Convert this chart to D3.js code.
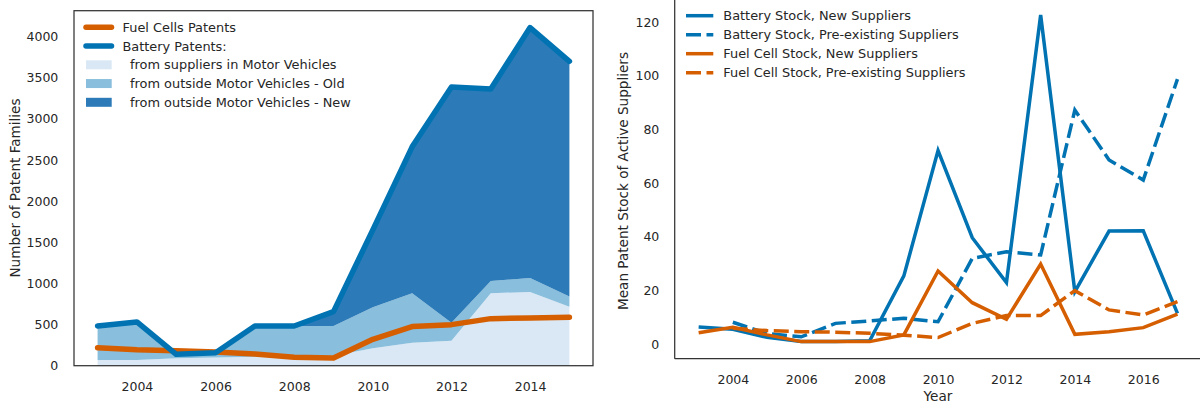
<!DOCTYPE html>
<html>
<head>
<meta charset="utf-8">
<script src="https://cdn.jsdelivr.net/npm/d3@7"></script>
<style>
  body { margin: 0; background: white; }
  svg text { font-family: "DejaVu Sans", sans-serif; fill: #262626; }
</style>
</head>
<body>
<div id="my_dataviz"></div>
<script>
// ---- data, left panel (patent families per year)
var leftYears = [2003, 2004, 2005, 2006, 2007, 2008, 2009, 2010, 2011, 2012, 2013, 2014, 2015]
var batSuppliersMV = [70, 70, 90, 100, 110, 110, 120, 212, 280, 304, 880, 897, 718]
var batOutsideOld = [413, 462, 49, 58, 373, 373, 363, 498, 600, 219, 150, 170, 122]
var batOutsideNew = [0, 0, 0, 0, 0, 0, 174, 941, 1780, 2864, 2333, 3043, 2860]
var fuelCellPatents = [219, 195, 183, 167, 142, 102, 94, 321, 475, 499, 572, 580, 589]
var leftXTicks = [2004, 2006, 2008, 2010, 2012, 2014]
var leftYTicks = [0, 500, 1000, 1500, 2000, 2500, 3000, 3500, 4000]

// ---- data, right panel (mean patent stock)
var rightYears = [2003, 2004, 2005, 2006, 2007, 2008, 2009, 2010, 2011, 2012, 2013, 2014, 2015, 2016, 2017]
var batStockNew = [6.4, 5.6, 2.6, 1.0, 1.0, 1.3, 25.5, 72.2, 39.7, 23.0, 122.7, 19.6, 42.2, 42.3, 11.5]
var batStockPre = [null, 8.2, 4.0, 2.8, 7.8, 8.7, 9.7, 8.4, 32.0, 34.5, 33.3, 87.3, 68.7, 61.2, 98.8]
var fcStockNew = [4.3, 6.3, 3.5, 1.0, 1.0, 1.0, 3.5, 27.3, 15.5, 9.3, 29.9, 3.7, 4.7, 6.2, 11.2]
var fcStockPre = [null, 6.0, 5.1, 4.7, 4.5, 4.1, 3.4, 2.5, 7.8, 10.7, 10.7, 20.0, 12.8, 10.9, 15.9]
var rightXTicks = [2004, 2006, 2008, 2010, 2012, 2014, 2016]
var rightYTicks = [0, 20, 40, 60, 80, 100, 120]

var blue = "#0173b2", orange = "#d55e00"
var areaColors = ["#dae8f5", "#89bedc", "#2c7bb8"]
var fontSize = 12.5      // ticks
var legendSize = 12.9    // legend entries
var labelSize = 13.6     // axis titles

var svg = d3.select("#my_dataviz")
  .append("svg")
  .attr("width", 1200)
  .attr("height", 405)

// ================= left panel =================
var xL = d3.scaleLinear().domain([2002.4, 2015.6]).range([74, 593])
var yL = d3.scaleLinear().domain([0, 4315]).range([365.7, 10.7])

var rows = leftYears.map(function(yr, i) {
  return { year: yr, mv: batSuppliersMV[i], old: batOutsideOld[i], nw: batOutsideNew[i], fc: fuelCellPatents[i] }
})
var stacked = d3.stack().keys(["mv", "old", "nw"])(rows)

var left = svg.append("g")

left.selectAll(".layer")
  .data(stacked)
  .enter()
  .append("path")
  .attr("fill", function(d, i) { return areaColors[i] })
  .attr("d", d3.area()
    .x(function(d) { return xL(d.data.year) })
    .y0(function(d) { return yL(d[0]) })
    .y1(function(d) { return yL(d[1]) }))

// fuel cells line
left.append("path")
  .datum(rows)
  .attr("fill", "none")
  .attr("stroke", orange)
  .attr("stroke-width", 5.5)
  .attr("stroke-linecap", "round")
  .attr("stroke-linejoin", "round")
  .attr("d", d3.line().x(function(d) { return xL(d.year) }).y(function(d) { return yL(d.fc) }))

// battery total = top of the stack
left.append("path")
  .datum(stacked[2])
  .attr("fill", "none")
  .attr("stroke", blue)
  .attr("stroke-width", 5.5)
  .attr("stroke-linecap", "round")
  .attr("stroke-linejoin", "round")
  .attr("d", d3.line().x(function(d) { return xL(d.data.year) }).y(function(d) { return yL(d[1]) }))

// frame
left.append("rect")
  .attr("x", 74).attr("y", 10.7)
  .attr("width", 593 - 74).attr("height", 365.7 - 10.7)
  .attr("fill", "none")
  .attr("stroke", "#333")
  .attr("stroke-width", 1.25)

left.append("g")
  .attr("transform", "translate(0,365.7)")
  .style("font-size", fontSize)
  .call(d3.axisBottom(xL).tickValues(leftXTicks).tickFormat(d3.format("d")).tickSize(0).tickPadding(16))
  .call(function(g) { g.select(".domain").remove() })

left.append("g")
  .attr("transform", "translate(74,0)")
  .style("font-size", fontSize)
  .call(d3.axisLeft(yL).tickValues(leftYTicks).tickFormat(d3.format("d")).tickSize(0).tickPadding(15.7))
  .call(function(g) { g.select(".domain").remove() })

left.append("text")
  .attr("transform", "translate(19.8,188) rotate(-90)")
  .attr("text-anchor", "middle")
  .style("font-size", labelSize)
  .text("Number of Patent Families")

// legend
var legL = [
  { label: "Fuel Cells Patents", type: "line", color: orange },
  { label: "Battery Patents:", type: "line", color: blue },
  { label: "from suppliers in Motor Vehicles", type: "patch", color: areaColors[0] },
  { label: "from outside Motor Vehicles - Old", type: "patch", color: areaColors[1] },
  { label: "from outside Motor Vehicles - New", type: "patch", color: areaColors[2] }
]
var legLeft = left.selectAll(".legL")
  .data(legL)
  .enter()
  .append("g")
  .attr("transform", function(d, i) { return "translate(0," + (27.3 + i * 18.75) + ")" })

legLeft.filter(function(d) { return d.type == "line" })
  .append("line")
  .attr("x1", 86).attr("x2", 111.5)
  .attr("stroke", function(d) { return d.color })
  .attr("stroke-width", 5.5)
  .attr("stroke-linecap", "round")

legLeft.filter(function(d) { return d.type == "patch" })
  .append("rect")
  .attr("x", 86).attr("y", -4.5)
  .attr("width", 25.7).attr("height", 9)
  .attr("fill", function(d) { return d.color })

legLeft.append("text")
  .attr("x", function(d) { return d.type == "line" ? 122.5 : 130 })
  .attr("dy", "0.35em")
  .style("font-size", legendSize)
  .text(function(d) { return d.label })

// ================= right panel =================
var xR = d3.scaleLinear().domain([2002.3, 2017.7]).range([674.7, 1201.4])
var yR = d3.scaleLinear().domain([-5.37, 128.3]).range([358.7, 0])

var right = svg.append("g")

var series = [
  { label: "Battery Stock, New Suppliers", values: batStockNew, color: blue, dash: null },
  { label: "Battery Stock, Pre-existing Suppliers", values: batStockPre, color: blue, dash: "15,5.5" },
  { label: "Fuel Cell Stock, New Suppliers", values: fcStockNew, color: orange, dash: null },
  { label: "Fuel Cell Stock, Pre-existing Suppliers", values: fcStockPre, color: orange, dash: "15,5.5" }
]

var lineR = d3.line()
  .x(function(d) { return xR(d.year) })
  .y(function(d) { return yR(d.v) })

right.selectAll(".serie")
  .data(series)
  .enter()
  .append("path")
  .attr("fill", "none")
  .attr("stroke", function(d) { return d.color })
  .attr("stroke-width", 3.5)
  .attr("stroke-dasharray", function(d) { return d.dash })
  .attr("d", function(d) {
    var pts = rightYears.map(function(yr, i) { return { year: yr, v: d.values[i] } })
      .filter(function(p) { return p.v != null })
    return lineR(pts)
  })

// spines (left + bottom only)
right.append("line")
  .attr("x1", 674.7).attr("x2", 674.7).attr("y1", 0).attr("y2", 358.7)
  .attr("stroke", "#333").attr("stroke-width", 1.25)
right.append("line")
  .attr("x1", 674.7).attr("x2", 1201.4).attr("y1", 358.7).attr("y2", 358.7)
  .attr("stroke", "#333").attr("stroke-width", 1.25)

right.append("g")
  .attr("transform", "translate(0,358.7)")
  .style("font-size", fontSize)
  .call(d3.axisBottom(xR).tickValues(rightXTicks).tickFormat(d3.format("d")).tickSize(0).tickPadding(16.3))
  .call(function(g) { g.select(".domain").remove() })

right.append("g")
  .attr("transform", "translate(674.7,0)")
  .style("font-size", fontSize)
  .call(d3.axisLeft(yR).tickValues(rightYTicks).tickFormat(d3.format("d")).tickSize(0).tickPadding(15.4))
  .call(function(g) { g.select(".domain").remove() })

right.append("text")
  .attr("transform", "translate(628,181) rotate(-90)")
  .attr("text-anchor", "middle")
  .style("font-size", labelSize)
  .text("Mean Patent Stock of Active Suppliers")

right.append("text")
  .attr("x", 938)
  .attr("y", 401)
  .attr("text-anchor", "middle")
  .style("font-size", labelSize)
  .text("Year")

// legend
var legRight = right.selectAll(".legR")
  .data(series)
  .enter()
  .append("g")
  .attr("transform", function(d, i) { return "translate(0," + (15.7 + i * 19) + ")" })

legRight.append("line")
  .attr("x1", 686).attr("x2", 713.3)
  .attr("stroke", function(d) { return d.color })
  .attr("stroke-width", 3.5)
  .attr("stroke-dasharray", function(d) { return d.dash })

legRight.append("text")
  .attr("x", 723.3)
  .attr("dy", "0.35em")
  .style("font-size", legendSize)
  .text(function(d) { return d.label })
</script>
</body>
</html>
